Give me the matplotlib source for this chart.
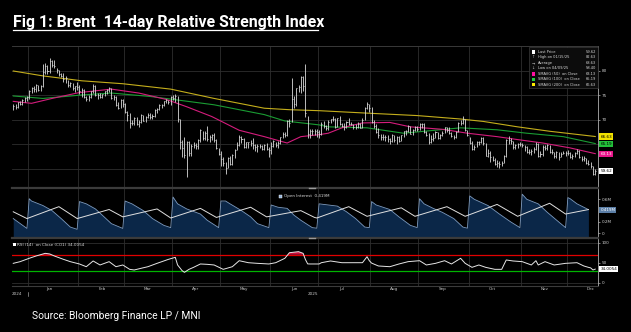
import numpy as np
import pandas as pd
import matplotlib
matplotlib.use('Agg')
import matplotlib.pyplot as plt
from matplotlib.lines import Line2D
from matplotlib.patches import Rectangle

# ---- data ----
# trading days, ICE holidays removed
days = pd.bdate_range('2024-12-20', '2025-12-17')
days = days.drop(pd.to_datetime(['2024-12-25', '2025-01-01', '2025-04-18']))

close = [72.94, 72.63, 73.58, 73.26, 74.17, 74.39, 74.64,
         75.93, 76.51, 76.30, 77.05, 76.16, 76.92, 79.76, 81.01, 79.92, 82.03, 81.29,
         81.03, 80.15, 79.29, 79.00, 78.29, 78.50, 77.08, 77.49, 76.58, 76.87, 76.76,
         75.96, 76.20, 74.61, 74.29, 74.66, 75.87, 77.00, 75.18, 75.02, 74.74,
         75.22, 75.84, 76.04, 76.48, 74.43, 74.78, 73.02, 72.53, 74.04, 73.18,
         71.62, 71.04, 69.30, 69.46, 70.36, 69.28, 69.56, 70.95, 69.88, 70.58, 71.07,
         70.56, 70.78, 72.00, 72.16, 73.00, 73.02, 73.79, 74.03, 73.63, 74.74,
         74.49, 74.95, 70.14, 65.58, 64.21, 62.82, 65.48, 63.33, 64.76, 64.88, 64.67,
         65.85, 67.96, 66.26, 67.44, 66.12, 66.55, 66.87, 65.86, 64.25, 63.12,
         62.13, 61.29, 60.23, 62.15, 61.12, 62.84, 63.91, 64.96, 66.63, 66.09, 64.53,
         65.41, 65.54, 65.38, 64.91, 64.44, 64.78, 64.74, 64.09, 64.90, 64.15, 63.90,
         64.63, 65.63, 64.86, 65.34, 66.47, 67.04, 66.87, 69.77, 69.36, 74.23, 73.23,
         76.45, 76.70, 78.85, 77.01, 71.48, 67.14, 67.68, 67.73, 67.77, 67.61,
         67.11, 69.11, 68.80, 68.30, 69.58, 70.15, 70.19, 68.64, 70.36, 69.21, 68.71,
         68.52, 69.52, 69.28, 69.21, 68.59, 68.51, 69.18, 68.44, 70.04, 72.51, 73.24, 72.53,
         69.67, 68.76, 67.64, 66.89, 66.43, 66.59, 66.63, 66.12, 65.63, 66.84, 65.85,
         66.60, 65.79, 66.84, 67.67, 67.73, 68.80, 67.22, 68.05, 68.62, 68.12,
         69.14, 69.14, 67.60, 66.99, 65.50, 66.02, 66.39, 67.49, 66.37, 66.99, 67.44,
         68.47, 67.95, 67.44, 66.68, 66.57, 67.63, 69.31, 69.42, 70.13, 67.97, 67.02,
         65.35, 64.11, 64.53, 65.47, 65.45, 66.25, 65.22, 62.73, 63.32, 62.39, 61.91,
         61.06, 61.29, 61.01, 61.32, 62.59, 65.99, 65.94, 65.62, 64.40, 64.92, 65.00, 65.07,
         64.89, 64.44, 63.52, 63.38, 63.63, 64.06, 65.16, 62.71, 63.01, 64.39,
         64.20, 64.89, 63.51, 63.38, 62.56, 63.37, 62.48, 63.13, 63.34, 63.20,
         63.17, 62.45, 62.67, 63.26, 63.75, 62.49, 61.94, 62.21, 61.28, 61.12, 60.56, 58.92, 59.62]

high = [73.2, 73.2, 73.7, 73.9, 74.3, 74.6, 74.8,
        76.2, 76.8, 77.0, 77.3, 77.2, 77.2, 81.5, 81.7, 81.3, 82.63, 82.2,
        82.3, 80.6, 80.2, 79.6, 79.5, 78.9, 78.1, 77.7, 77.5, 77.0, 77.8,
        77.1, 76.5, 76.4, 74.9, 75.1, 76.0, 77.3, 77.2, 75.6, 75.5,
        75.4, 76.0, 76.3, 76.8, 76.5, 75.0, 74.9, 73.6, 74.2, 74.3,
        73.5, 71.8, 71.4, 70.0, 70.7, 70.6, 70.0, 71.2, 71.0, 70.9, 71.4,
        71.5, 71.2, 72.3, 72.5, 73.2, 73.3, 73.9, 74.3, 74.1, 74.9,
        75.0, 75.3, 74.9, 70.3, 66.0, 66.5, 65.8, 65.8, 65.0, 65.6, 65.4,
        66.1, 68.2, 67.8, 67.7, 68.7, 66.9, 67.2, 67.3, 66.1, 64.3,
        63.6, 62.4, 61.4, 62.4, 62.6, 63.0, 64.1, 65.5, 66.9, 66.7, 66.3,
        65.6, 65.6, 66.0, 66.3, 65.0, 65.2, 65.2, 64.9, 65.1, 65.4, 64.4,
        65.5, 66.0, 65.6, 65.8, 66.6, 67.5, 67.5, 70.0, 70.3, 78.5, 74.9,
        76.6, 77.2, 79.0, 79.0, 81.4, 70.9, 68.1, 68.1, 68.2, 68.1,
        67.9, 69.6, 69.7, 68.9, 70.0, 70.3, 70.8, 70.5, 70.5, 70.8, 69.4,
        69.3, 69.8, 70.5, 69.6, 69.2, 69.1, 69.5, 69.4, 70.4, 72.7, 73.6, 73.2,
        72.6, 69.9, 69.1, 68.4, 67.2, 67.2, 67.0, 66.9, 66.3, 67.1, 66.9,
        66.8, 66.8, 67.0, 67.8, 68.0, 69.0, 68.8, 68.2, 68.8, 68.7,
        69.3, 69.4, 69.3, 67.7, 67.3, 66.9, 67.3, 67.8, 67.6, 67.2, 67.8,
        68.6, 68.6, 68.5, 67.6, 67.0, 67.8, 69.5, 69.9, 70.8, 70.1, 67.9,
        66.6, 65.7, 64.9, 65.8, 65.8, 66.5, 66.6, 65.3, 64.0, 63.6, 62.6,
        62.3, 61.8, 61.6, 61.6, 62.8, 66.2, 66.8, 66.3, 65.8, 65.2, 65.3, 65.5,
        65.3, 64.9, 64.6, 64.1, 64.0, 64.4, 65.5, 65.3, 63.6, 64.8,
        64.9, 65.1, 64.9, 64.0, 63.5, 63.6, 63.5, 63.4, 63.6, 63.6,
        63.8, 63.4, 63.1, 63.5, 64.0, 63.9, 62.6, 62.7, 62.3, 61.8, 61.5, 60.6, 60.0]

low = [72.1, 72.2, 72.5, 73.0, 73.0, 73.7, 73.9,
       74.3, 75.6, 75.8, 75.8, 75.9, 75.9, 76.7, 79.3, 79.3, 79.6, 80.8,
       80.6, 79.6, 78.9, 78.7, 77.8, 77.5, 76.8, 76.7, 76.1, 75.8, 76.1,
       75.3, 74.6, 74.5, 73.9, 73.9, 74.5, 75.6, 74.9, 74.3, 74.5,
       74.5, 74.9, 75.3, 75.8, 74.2, 74.1, 72.8, 72.3, 72.4, 72.7,
       71.5, 69.8, 68.3, 68.9, 68.9, 68.9, 68.6, 69.4, 69.7, 69.6, 70.4,
       70.1, 70.2, 70.7, 71.5, 72.0, 72.5, 72.8, 73.4, 73.3, 73.1,
       74.1, 73.7, 69.5, 64.0, 62.5, 62.3, 58.4, 62.6, 62.6, 64.3, 64.1,
       64.1, 65.6, 65.9, 65.9, 65.8, 65.5, 66.0, 65.6, 64.0, 62.8,
       60.6, 60.6, 59.0, 60.2, 60.8, 60.9, 62.3, 63.8, 64.6, 65.3, 64.2,
       64.2, 64.2, 64.6, 64.0, 63.7, 63.5, 64.3, 63.8, 63.8, 63.9, 62.4,
       63.0, 64.5, 64.5, 64.3, 65.1, 66.3, 66.5, 66.8, 68.5, 69.5, 72.5,
       72.9, 75.7, 75.5, 76.0, 70.6, 66.3, 66.4, 66.9, 67.0, 66.6,
       66.3, 66.9, 68.3, 67.9, 67.9, 69.3, 69.8, 68.3, 68.6, 68.9, 68.5,
       68.0, 68.3, 69.0, 68.9, 68.2, 68.2, 68.4, 68.3, 68.3, 69.9, 72.2, 71.6,
       69.3, 68.4, 67.3, 66.4, 66.0, 65.9, 65.8, 65.5, 65.0, 65.5, 65.5,
       65.0, 65.5, 65.7, 66.5, 67.0, 67.6, 67.1, 66.9, 67.8, 67.8,
       67.9, 68.4, 67.4, 66.8, 65.1, 65.4, 65.8, 66.4, 66.2, 66.2, 66.7,
       67.4, 67.6, 67.2, 66.5, 66.2, 66.4, 67.5, 68.9, 69.1, 67.8, 66.7,
       65.2, 63.9, 63.8, 64.4, 64.9, 65.3, 64.9, 62.6, 62.5, 61.5, 61.6,
       60.9, 60.5, 60.1, 60.7, 61.2, 62.5, 65.2, 65.1, 64.0, 64.0, 64.3, 64.6,
       64.4, 63.7, 63.2, 63.0, 62.8, 63.3, 63.8, 62.5, 62.4, 62.7,
       63.8, 63.8, 63.3, 63.0, 62.3, 62.2, 61.9, 62.4, 63.0, 62.7,
       62.9, 62.3, 62.1, 62.5, 63.0, 62.3, 61.6, 61.7, 61.1, 60.8, 60.1, 58.7, 58.8]

avg_price = 68.63

# moving averages, read at a few dates
sma50_dates = ['2024-12-20', '2025-01-03', '2025-01-16', '2025-02-03', '2025-02-21', '2025-03-11',
               '2025-03-27', '2025-04-09', '2025-04-25', '2025-05-13', '2025-05-28', '2025-06-11',
               '2025-06-19', '2025-07-01', '2025-07-07', '2025-07-15', '2025-07-28', '2025-08-13',
               '2025-08-26', '2025-09-15', '2025-09-30', '2025-10-17', '2025-10-30', '2025-11-14',
               '2025-12-02', '2025-12-17']
sma50 = [73.8, 73.4, 74.4, 75.6, 76.3, 75.5, 74.2, 72.7, 70.7, 67.9, 66.6, 65.3, 66.6, 67.0,
         67.3, 68.4, 69.4, 69.5, 68.6, 68.1, 67.3, 66.6, 66.0, 65.3, 64.3, 63.13]
sma100_dates = ['2024-12-20', '2025-01-10', '2025-02-04', '2025-02-21', '2025-03-18', '2025-04-01',
                '2025-04-28', '2025-05-28', '2025-06-10', '2025-07-01', '2025-07-07', '2025-07-30',
                '2025-08-21', '2025-09-25', '2025-10-17', '2025-11-05', '2025-11-27', '2025-12-17']
sma100 = [74.9, 74.4, 75.1, 75.5, 74.8, 74.2, 73.1, 71.1, 69.8, 69.0, 68.6, 68.4, 67.3, 68.4,
          68.0, 67.3, 66.6, 65.19]
sma200_dates = ['2024-12-20', '2025-01-10', '2025-02-04', '2025-02-28', '2025-03-31', '2025-04-28',
                '2025-05-28', '2025-06-12', '2025-07-01', '2025-07-30', '2025-08-29', '2025-09-25',
                '2025-10-09', '2025-10-30', '2025-11-19', '2025-12-17']
sma200 = [80.0, 79.0, 78.0, 77.4, 76.3, 74.4, 72.4, 72.1, 71.9, 71.4, 70.9, 70.2, 69.7, 68.6,
          67.7, 66.63]

# open interest (millions), front contract (area) and the line
oi_dates = ['2024-12-20', '2024-12-31', '2025-01-02', '2025-01-03', '2025-01-10', '2025-01-16',
            '2025-01-22', '2025-01-28', '2025-01-31', '2025-02-03', '2025-02-06', '2025-02-12',
            '2025-02-17', '2025-02-21', '2025-02-28', '2025-03-03', '2025-03-06', '2025-03-13',
            '2025-03-19', '2025-03-26', '2025-03-31', '2025-04-01', '2025-04-03', '2025-04-09',
            '2025-04-17', '2025-04-23', '2025-04-30', '2025-05-01', '2025-05-05', '2025-05-07',
            '2025-05-14', '2025-05-20', '2025-05-23', '2025-05-30', '2025-06-02', '2025-06-05',
            '2025-06-11', '2025-06-16', '2025-06-19', '2025-06-26', '2025-06-30', '2025-07-01',
            '2025-07-07', '2025-07-11', '2025-07-17', '2025-07-23', '2025-07-29', '2025-07-31',
            '2025-08-01', '2025-08-05', '2025-08-13', '2025-08-19', '2025-08-26', '2025-08-29',
            '2025-09-01', '2025-09-03', '2025-09-09', '2025-09-15', '2025-09-22', '2025-09-26',
            '2025-09-30', '2025-10-01', '2025-10-03', '2025-10-13', '2025-10-20', '2025-10-27',
            '2025-10-31', '2025-11-03', '2025-11-05', '2025-11-12', '2025-11-18', '2025-11-25',
            '2025-11-28', '2025-12-01', '2025-12-02', '2025-12-05', '2025-12-12']
oi_front = [0.26, 0.086, 0.61, 0.57, 0.49, 0.40, 0.26, 0.11, 0.07, 0.56, 0.52, 0.43, 0.32, 0.17,
            0.086, 0.57, 0.52, 0.40, 0.26, 0.14, 0.10, 0.64, 0.52, 0.43, 0.34, 0.23, 0.10, 0.57,
            0.57, 0.52, 0.40, 0.29, 0.17, 0.10, 0.50, 0.46, 0.44, 0.32, 0.23, 0.10, 0.09, 0.52,
            0.50, 0.48, 0.38, 0.26, 0.11, 0.10, 0.56, 0.50, 0.42, 0.29, 0.14, 0.10, 0.61, 0.52,
            0.44, 0.37, 0.26, 0.11, 0.09, 0.66, 0.60, 0.49, 0.34, 0.20, 0.10, 0.69, 0.60, 0.52,
            0.37, 0.20, 0.10, 0.63, 0.61, 0.52, 0.419]
oi_line_dates = ['2024-12-20', '2024-12-31', '2025-01-21', '2025-01-31', '2025-02-20', '2025-02-28',
                 '2025-03-21', '2025-03-31', '2025-04-17', '2025-04-29', '2025-05-20', '2025-05-29',
                 '2025-06-19', '2025-06-27', '2025-06-30', '2025-07-18', '2025-07-30', '2025-08-20',
                 '2025-08-28', '2025-09-17', '2025-09-29', '2025-10-17', '2025-10-30', '2025-11-19',
                 '2025-11-28', '2025-12-12']
oi_line = [0.38, 0.26, 0.47, 0.26, 0.42, 0.29, 0.43, 0.27, 0.44, 0.28, 0.46, 0.29, 0.40, 0.28,
           0.27, 0.47, 0.30, 0.45, 0.30, 0.47, 0.30, 0.51, 0.30, 0.53, 0.34, 0.419]

# RSI (14)
rsi_dates = ['2024-12-20', '2024-12-26', '2025-01-02', '2025-01-07', '2025-01-13', '2025-01-15',
             '2025-01-17', '2025-01-23', '2025-01-28', '2025-02-03', '2025-02-06', '2025-02-11',
             '2025-02-14', '2025-02-20', '2025-02-25', '2025-02-28', '2025-03-05', '2025-03-07',
             '2025-03-12', '2025-03-17', '2025-03-21', '2025-03-28', '2025-04-02', '2025-04-03',
             '2025-04-07', '2025-04-08', '2025-04-10', '2025-04-14', '2025-04-17', '2025-04-23',
             '2025-04-28', '2025-05-02', '2025-05-08', '2025-05-13', '2025-05-19', '2025-05-23',
             '2025-05-30', '2025-06-04', '2025-06-10', '2025-06-12', '2025-06-18', '2025-06-20',
             '2025-06-23', '2025-06-24', '2025-06-25', '2025-07-01', '2025-07-02', '2025-07-08',
             '2025-07-15', '2025-07-21', '2025-07-28', '2025-07-30', '2025-07-31', '2025-08-01',
             '2025-08-06', '2025-08-13', '2025-08-19', '2025-08-25', '2025-09-01', '2025-09-04',
             '2025-09-10', '2025-09-16', '2025-09-19', '2025-09-25', '2025-09-29', '2025-10-02',
             '2025-10-07', '2025-10-10', '2025-10-16', '2025-10-21', '2025-10-23', '2025-10-28',
             '2025-11-03', '2025-11-07', '2025-11-11', '2025-11-12', '2025-11-17', '2025-11-21',
             '2025-11-28', '2025-12-05', '2025-12-10', '2025-12-12', '2025-12-15', '2025-12-16',
             '2025-12-17']
rsi = [48.4, 52.6, 61.0, 66.8, 73.4, 71.8, 66.8, 58.4, 52.6, 46.8, 40.0, 54.3, 44.3, 52.6, 40.0,
       44.3, 33.4, 31.8, 36.0, 40.0, 48.4, 58.4, 63.4, 44.3, 30.0, 25.9, 33.4, 38.4, 46.8, 45.9,
       44.3, 33.4, 40.0, 55.0, 50.0, 48.4, 46.8, 50.0, 61.0, 75.0, 77.6, 73.4, 58.0, 47.0, 46.8,
       46.8, 50.0, 54.3, 50.0, 50.0, 50.0, 65.0, 55.0, 49.0, 41.8, 40.0, 46.8, 52.6, 55.0, 44.3,
       48.4, 55.0, 46.8, 61.0, 48.4, 38.4, 44.3, 38.4, 33.4, 33.4, 56.8, 54.3, 52.6, 44.3, 55.0,
       44.3, 52.6, 44.3, 48.4, 50.0, 41.8, 38.4, 37.0, 31.8, 34.0054]

months = ['Jan', 'Feb', 'Mar', 'Apr', 'May', 'Jun', 'Jul', 'Aug', 'Sep', 'Oct', 'Nov', 'Dec']

assert len(close) == len(high) == len(low) == len(days)

# ---- figure ----
W, H = 631, 332
plt.rcParams['font.family'] = ['DejaVu Sans']
fig = plt.figure(figsize=(W / 100, H / 100), dpi=100)
fig.patch.set_facecolor('black')


def rect(x0, y0, x1, y1):
    return [x0 / W, 1 - y1 / H, (x1 - x0) / W, (y1 - y0) / H]


def fx(p):
    return p / W


def fy(p):
    return 1 - p / H


ax1 = fig.add_axes(rect(12, 46, 598, 188))
ax2 = fig.add_axes(rect(12, 189, 598, 238), sharex=ax1)
ax3 = fig.add_axes(rect(12, 239, 598, 286), sharex=ax1)

x = np.arange(len(days))
pos = lambda d: days.get_indexer(pd.to_datetime(d), method='nearest')
bounds = [i - 0.5 for i in range(1, len(days)) if days[i].month != days[i - 1].month]

grid_c = '#2e2e2e'
axis_c = '#b0b0b0'
for ax in (ax1, ax2, ax3):
    ax.set_facecolor('black')
    for s in ('left', 'top', 'bottom'):
        ax.spines[s].set_visible(False)
    ax.spines['right'].set_color(axis_c)
    ax.spines['right'].set_linewidth(0.6)
    ax.yaxis.tick_right()
    ax.tick_params(axis='y', colors=axis_c, labelcolor='#d0d0d0', labelsize=3,
                   length=1.5, width=0.5, pad=1.2)
    ax.tick_params(axis='x', bottom=False, labelbottom=False)
    for b in bounds:
        ax.axvline(b, color=grid_c, lw=0.6, zorder=0)
ax1.set_xlim(-0.55, 256.2)

# price panel
ax1.set_ylim(56.12, 85.1)
ax1.set_yticks([60, 65, 70, 75, 80])
ax1.set_yticklabels(['', '', '70', '75', '80'])
for v in [60, 65, 70, 75, 80, 85]:
    ax1.axhline(v, color=grid_c, lw=0.6, zorder=0)
bar_c = '#dadada'
ax1.vlines(x, low, high, color=bar_c, lw=0.6, zorder=3)
ax1.hlines(close, x, x + 0.45, color=bar_c, lw=0.6, zorder=3)
mag, grn, yel = '#d41c7c', '#1a9c33', '#c4ae1c'
ax1.plot(pos(sma200_dates), sma200, color=yel, lw=0.8, zorder=2)
ax1.plot(pos(sma100_dates), sma100, color=grn, lw=0.8, zorder=2)
ax1.plot(pos(sma50_dates), sma50, color=mag, lw=0.8, zorder=2)

tagT = ax1.get_yaxis_transform()
for val, fc, tc in [(sma200[-1], '#f2e200', 'black'), (sma100[-1], '#22c03a', 'black'),
                    (sma50[-1], '#e8158a', 'white'), (close[-1], 'white', 'black')]:
    ax1.text(1.004, val, f'{val:.2f}', transform=tagT, fontsize=3, color=tc, va='center',
             ha='left', bbox=dict(boxstyle='square,pad=0.25', fc=fc, ec='none'), zorder=6,
             clip_on=False)

# legend box
fig.add_artist(Rectangle((fx(529), fy(88)), 69 / W, 41 / H, transform=fig.transFigure,
                         fc='#0c0c0c', ec='#3a3a3a', lw=0.5, zorder=5))
rows = [('Last Price', f'{close[-1]:.2f}', 'white', None),
        ('High on 01/15/25', f'{max(high):.2f}', None, '\u2191'),
        ('Average', f'{avg_price:.2f}', None, '\u2192'),
        ('Low on 04/09/25', f'{min(low):.2f}', None, '\u2193'),
        ('SMAVG (50)  on Close', f'{sma50[-1]:.2f}', '#ff10a0', None),
        ('SMAVG (100)  on Close', f'{sma100[-1]:.2f}', '#20d040', None),
        ('SMAVG (200)  on Close', f'{sma200[-1]:.2f}', '#ffee00', None)]
for k, (lab, val, sq, icon) in enumerate(rows):
    yy = 52 + k * 5.45
    if sq:
        fig.add_artist(Rectangle((fx(531.5), fy(yy + 1.7)), 3.4 / W, 3.4 / H,
                                 transform=fig.transFigure, fc=sq, ec='none', zorder=6))
    else:
        fig.text(fx(533.2), fy(yy), icon, fontsize=2.8, color='#bbbbbb', ha='center',
                 va='center', zorder=6)
    fig.text(fx(537.5), fy(yy), lab, fontsize=2.6, color='#d8d8d8', va='center', zorder=6)
    fig.text(fx(596), fy(yy), val, fontsize=2.6, color='#d8d8d8', va='center', ha='right',
             zorder=6)

# open interest panel
ax2.set_ylim(-0.083, 0.782)
ax2.set_yticks([0, 0.2, 0.6])
ax2.set_yticklabels(['0', '0.2M', '0.6M'])
ox = pos(oi_dates)
ax2.fill_between(ox, oi_front, -0.083, color='#0b2748', lw=0, zorder=1)
ax2.plot(ox, oi_front, color='#7d9cc2', lw=0.6, zorder=2)
ax2.plot(pos(oi_line_dates), oi_line, color='#e0e0e0', lw=0.7, zorder=3)
ax2.text(1.004, oi_front[-1], f'{oi_front[-1]:.3f}M', transform=ax2.get_yaxis_transform(),
         fontsize=3, color='white', va='center', ha='left', clip_on=False, zorder=6,
         bbox=dict(boxstyle='square,pad=0.25', fc='#5b7ea6', ec='none'))
fig.add_artist(Rectangle((fx(279), fy(198)), 3.2 / W, 3.2 / H, transform=fig.transFigure,
                         fc='#8fb0d8', ec='white', lw=0.3, zorder=6))
fig.text(fx(284), fy(196.4), f'Open Interest  {oi_line[-1]:.3f}M', fontsize=3,
         color='#d8d8d8', va='center', zorder=6)

# RSI panel
ax3.set_ylim(-8.25, 109.25)
ax3.set_yticks([0, 50, 100])
for v in [0, 100]:
    ax3.axhline(v, color=grid_c, lw=0.6, zorder=0)
rx = pos(rsi_dates)
rv = np.array(rsi)
ax3.axhline(70, color='#e00000', lw=0.9, zorder=2)
ax3.axhline(30, color='#00b400', lw=0.9, zorder=2)
ax3.fill_between(rx, rv, 70, where=rv > 70, interpolate=True, color='#c8103c', lw=0, zorder=2)
ax3.plot(rx, rv, color='#e6e6e6', lw=0.7, zorder=3)
ax3.text(1.004, rsi[-1], f'{rsi[-1]:.4f}', transform=ax3.get_yaxis_transform(), fontsize=3,
         color='black', va='center', ha='left', clip_on=False, zorder=6,
         bbox=dict(boxstyle='square,pad=0.25', fc='white', ec='none'))
fig.add_artist(Rectangle((fx(12.5), fy(246.3)), 3.2 / W, 3.2 / H, transform=fig.transFigure,
                         fc='white', ec='none', zorder=6))
fig.text(fx(17), fy(244.7), f'RSI (14)  on Close (CO1) {rsi[-1]:.4f}', fontsize=3,
         color='#d8d8d8', va='center', zorder=6)

# month / year labels
for m, name in enumerate(months):
    mid = days.searchsorted(pd.Timestamp(2025, m + 1, 15))
    ax3.text(mid, -0.065, name, transform=ax3.get_xaxis_transform(), fontsize=3,
             color='#c8c8c8', ha='center', va='center')
ax3.text(1.5, -0.17, '2024', transform=ax3.get_xaxis_transform(), fontsize=3,
         color='#c8c8c8', ha='center', va='center')
ax3.text(131.5, -0.17, '2025', transform=ax3.get_xaxis_transform(), fontsize=3,
         color='#c8c8c8', ha='center', va='center')
fig.add_artist(Line2D([fx(28), fx(28)], [fy(292), fy(296)], color='#c8c8c8', lw=0.4))

# panel separators
for yy, lw in [(46, 0.6), (188.5, 1.6), (238.3, 1.6), (286.3, 0.8)]:
    fig.add_artist(Line2D([fx(12), fx(598)], [fy(yy), fy(yy)], color='#3b3b3b', lw=lw,
                          zorder=4))
for yy in (188.5, 238.3):
    fig.add_artist(Line2D([fx(309), fx(315)], [fy(yy), fy(yy)], color='#9a9a9a', lw=1.0,
                          zorder=5))

# title and source
fig.text(fx(13), fy(22.5), 'Fig 1: Brent  14-day Relative Strength Index', fontsize=11.45,
         fontweight='bold', family=['Roboto', 'DejaVu Sans'], color='white', va='center')
fig.add_artist(Line2D([fx(13), fx(318)], [fy(30), fy(30)], color='white', lw=0.9))
fig.text(fx(32), fy(316), 'Source: Bloomberg Finance LP / MNI', fontsize=7.4,
         family=['Roboto', 'DejaVu Sans'], color='white', va='center')

fig.savefig('out.png', dpi=100, facecolor='black')
